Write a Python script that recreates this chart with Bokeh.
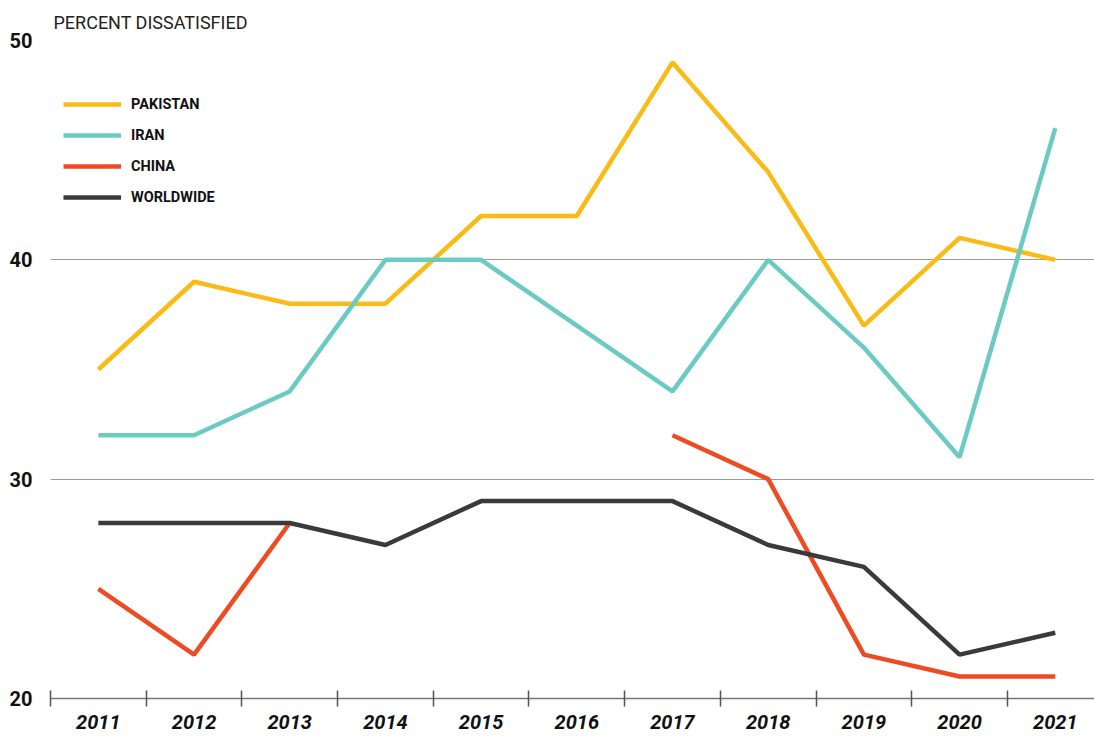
import numpy as np
from bokeh.plotting import figure
from bokeh.models import FixedTicker, Legend, LegendItem, Range1d
from bokeh.embed import file_html
from bokeh.resources import INLINE

years = [2011, 2012, 2013, 2014, 2015, 2016, 2017, 2018, 2019, 2020, 2021]
pakistan = [35, 39, 38, 38, 42, 42, 49, 44, 37, 41, 40]
iran = [32, 32, 34, 40, 40, 37, 34, 40, 36, 31, 46]
china = [25, 22, 28, np.nan, np.nan, np.nan, 32, 30, 22, 21, 21]
worldwide = [28, 28, 28, 27, 29, 29, 29, 27, 26, 22, 23]
y_ticks = [20, 30, 40, 50]

series = [
    ("PAKISTAN", pakistan, "#FBBB16"),
    ("IRAN", iran, "#6BCBC3"),
    ("CHINA", china, "#EF4B23"),
    ("WORLDWIDE", worldwide, "#3A3A3A"),
]

FONT = "Roboto"

p = figure(width=1094, height=736, output_backend="svg", toolbar_location=None,
           x_range=Range1d(years[0] - 0.5, years[-1] + 0.41),
           y_range=Range1d(20, 50),
           min_border_left=50, min_border_right=0, min_border_top=40, min_border_bottom=38)
p.outline_line_color = None
p.background_fill_color = "white"
p.border_fill_color = "white"

p.title.text = "PERCENT DISSATISFIED"
p.title.text_font = FONT
p.title.text_font_style = "normal"
p.title.text_font_size = "18px"
p.title.text_color = "#222222"
p.title.offset = 3
p.title.standoff = 15

items = []
for name, vals, color in series:
    r = p.line(years, vals, line_color=color, line_width=4.5)
    items.append(LegendItem(label=name, renderers=[r]))

legend = Legend(items=items, location=(13, 491), orientation="vertical",
                glyph_width=58, glyph_height=20, label_height=20, label_standoff=10,
                spacing=11, padding=0, margin=0,
                background_fill_alpha=0, border_line_color=None,
                label_text_font=FONT, label_text_font_style="bold",
                label_text_font_size="14.5px", label_text_color="#111111")
p.add_layout(legend)

# x axis
xa = p.xaxis[0]
xa.ticker = FixedTicker(ticks=years, minor_ticks=[y - 0.5 for y in years] + [years[-1] + 0.5])
xa.major_tick_in = 0
xa.major_tick_out = 0
xa.minor_tick_in = 8
xa.minor_tick_out = 8
xa.minor_tick_line_color = "#555555"
xa.minor_tick_line_width = 1.5
xa.axis_line_color = "#777777"
xa.axis_line_width = 1.5
xa.major_label_text_font = FONT
xa.major_label_text_font_style = "bold italic"
xa.major_label_text_font_size = "20px"
xa.major_label_text_color = "#111111"
xa.major_label_standoff = 8

# y axis
ya = p.yaxis[0]
ya.ticker = FixedTicker(ticks=y_ticks)
ya.major_tick_in = 0
ya.major_tick_out = 0
ya.minor_tick_in = 0
ya.minor_tick_out = 0
ya.axis_line_color = None
ya.major_label_text_font = FONT
ya.major_label_text_font_style = "bold"
ya.major_label_text_font_size = "20px"
ya.major_label_text_color = "#111111"
ya.major_label_standoff = 18

p.xgrid.grid_line_color = None
p.ygrid.grid_line_color = "#9a9a9a"
p.ygrid.grid_line_width = 1.2

open("out.html", "w").write(file_html(p, INLINE))
